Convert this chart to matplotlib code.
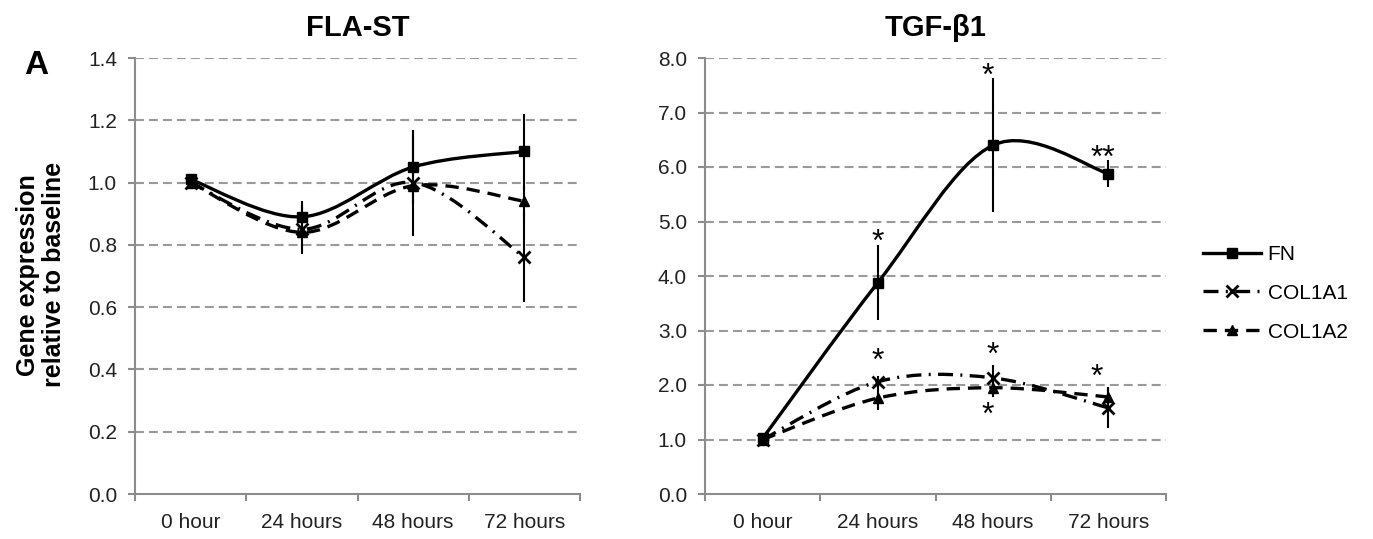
import numpy as np
import matplotlib
matplotlib.use("Agg")
import matplotlib.pyplot as plt
from matplotlib.path import Path
from matplotlib.patches import PathPatch
from matplotlib.lines import Line2D

plt.rcParams['font.family'] = ['Liberation Sans', 'DejaVu Sans']

# data
categories = ["0 hour", "24 hours", "48 hours", "72 hours"]
series_names = ["FN", "COL1A1", "COL1A2"]

fla_fn = [1.01, 0.89, 1.05, 1.10]
fla_fn_err = [0.0, 0.05, 0.12, 0.12]
fla_col1 = [1.00, 0.85, 1.00, 0.76]
fla_col1_err = [0.0, 0.08, 0.17, 0.145]
fla_col2 = [1.00, 0.84, 0.99, 0.94]
fla_col2_err = [0.0, 0.0, 0.0, 0.05]

tgf_fn = [1.02, 3.88, 6.40, 5.88]
tgf_fn_err = [0.0, 0.68, 1.23, 0.25]
tgf_col1 = [1.00, 2.06, 2.13, 1.58]
tgf_col1_err = [0.0, 0.10, 0.24, 0.37]
tgf_col2 = [1.00, 1.76, 1.95, 1.78]
tgf_col2_err = [0.0, 0.22, 0.17, 0.19]

# significance marks: (category index, y, text)
tgf_marks = [(1, 4.60, "*"), (1.95, 7.66, "*"), (2.95, 6.14, "**"),
             (1, 2.43, "*"), (2, 2.53, "*"), (1.95, 1.43, "*"), (2.9, 2.13, "*")]

styles = [
    dict(ls="-", marker="s", ms=7, mew=1),
    dict(ls=(0, (4.5, 2.2, 0.6, 2.2)), marker="x", ms=8, mew=2),
    dict(ls=(0, (4, 2.4)), marker="^", ms=7, mew=1),
]
LW = 2.4
GRID = "#9a9a9a"
AXC = "#8c8c8c"


def smooth(ax, xs, ys, ls):
    # excel-like smoothed line: catmull-rom segments as cubic beziers
    P = np.column_stack([xs, ys]).astype(float)
    n = len(P)
    verts = [P[0]]
    codes = [Path.MOVETO]
    for i in range(n - 1):
        p0 = P[i - 1] if i > 0 else P[i]
        p1, p2 = P[i], P[i + 1]
        p3 = P[i + 2] if i + 2 < n else P[i + 1]
        verts += [p1 + (p2 - p0) / 6, p2 - (p3 - p1) / 6, p2]
        codes += [Path.CURVE4] * 3
    patch = PathPatch(Path(verts, codes), fill=False, lw=LW, ls=ls,
                      edgecolor="black", capstyle="butt", zorder=3)
    ax.add_patch(patch)


def setup(ax, ymax, ystep, title):
    x = np.arange(len(categories))
    ax.set_xlim(-0.5, len(categories) - 0.5)
    ax.set_ylim(0, ymax)
    yt = np.arange(0, ymax + ystep / 2, ystep)
    ax.set_yticks(yt)
    ax.set_yticklabels(["%.1f" % v for v in yt])
    for v in yt[1:]:
        ax.axhline(v, color=GRID, lw=1.5, ls=(0, (4.3, 2.4)), zorder=1)
    ax.set_xticks(np.arange(-0.5, len(categories)))
    ax.set_xticklabels([])
    ax.set_xticks(x, minor=True)
    ax.set_xticklabels(categories, minor=True)
    ax.tick_params(axis="x", which="major", length=5, width=1.5, color=AXC)
    ax.tick_params(axis="x", which="minor", length=0, labelsize=15, pad=14, colors="#222222")
    ax.tick_params(axis="y", length=5, width=1.5, color=AXC, labelsize=15, labelcolor="#222222", pad=8)
    for s in ["top", "right"]:
        ax.spines[s].set_visible(False)
    for s in ["left", "bottom"]:
        ax.spines[s].set_color(AXC)
        ax.spines[s].set_linewidth(1.5)
    ax.set_title(title, fontsize=21, fontweight="bold", pad=16)


def draw(ax, data):
    x = np.arange(len(categories))
    for (ys, err), st in zip(data, styles):
        smooth(ax, x, ys, st["ls"])
        ax.errorbar(x, ys, yerr=err, fmt="none", ecolor="black", elinewidth=1.5, capsize=0, zorder=4)
        ax.plot(x, ys, ls="none", marker=st["marker"], ms=st["ms"], mew=st["mew"],
                color="black", zorder=5)


fig = plt.figure(figsize=(13.73, 5.39), dpi=100)
ax1 = fig.add_axes([135 / 1373, 45 / 539, 445 / 1373, 436 / 539])
ax2 = fig.add_axes([705 / 1373, 45 / 539, 461 / 1373, 436 / 539])

setup(ax1, 1.4, 0.2, "FLA-ST")
setup(ax2, 8.0, 1.0, "TGF-\u03b21")

draw(ax1, [(fla_fn, fla_fn_err), (fla_col1, fla_col1_err), (fla_col2, fla_col2_err)])
draw(ax2, [(tgf_fn, tgf_fn_err), (tgf_col1, tgf_col1_err), (tgf_col2, tgf_col2_err)])

for xi, yi, t in tgf_marks:
    ax2.text(xi, yi, t, ha="center", va="center", fontsize=23, zorder=6)

fig.text(36 / 1373, 1 - 65 / 539, "A", fontsize=24, fontweight="bold", ha="center", va="center")
fig.text(41 / 1373, 0.49, "Gene expression\nrelative to baseline", rotation=90,
         fontsize=18, fontweight="bold", ha="center", va="center", multialignment="center",
         linespacing=1.1)

handles = [Line2D([], [], color="black", lw=LW, ls=st["ls"], marker=st["marker"],
                  ms=st["ms"], mew=st["mew"]) for st in styles]
fig.legend(handles, series_names, loc="upper left", bbox_to_anchor=(1203 / 1373, 1 - 245 / 539),
           frameon=False, fontsize=15, handlelength=2.8, handletextpad=0.3,
           labelspacing=0.95, borderpad=0, borderaxespad=0, numpoints=1)

fig.savefig("out.png", dpi=100)
